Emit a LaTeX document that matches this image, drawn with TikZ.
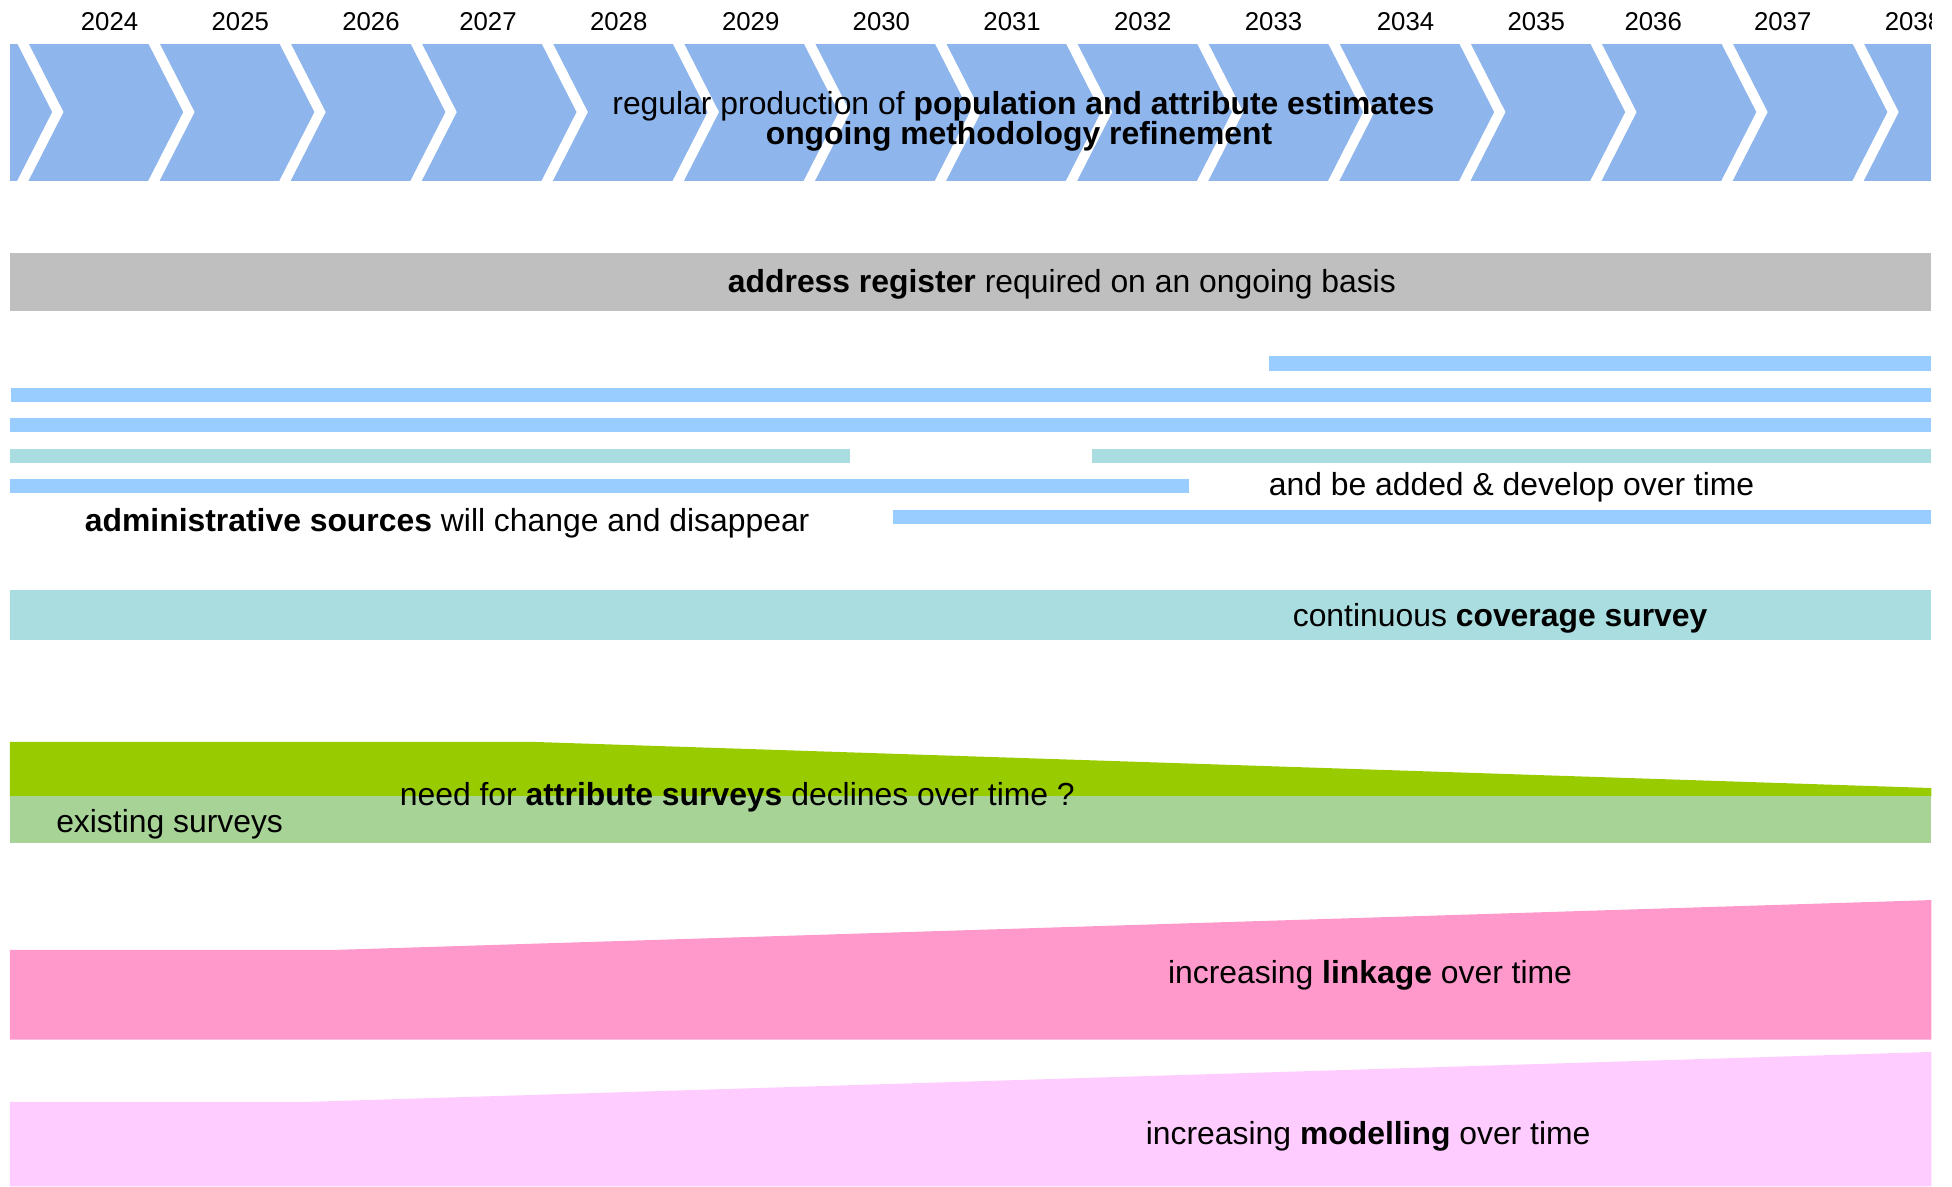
\documentclass[tikz,border=0pt]{standalone}
\usepackage{fontspec}
\setmainfont{Liberation Sans}
\definecolor{chev}{HTML}{8EB5EC}
\definecolor{greybar}{HTML}{BFBFBF}
\definecolor{thinblue}{HTML}{99CCFF}
\definecolor{teal}{HTML}{AADDE0}
\definecolor{dkgreen}{HTML}{99CC00}
\definecolor{ltgreen}{HTML}{A7D496}
\definecolor{pink}{HTML}{FF99CC}
\definecolor{ltpink}{HTML}{FFCCFF}
\tikzset{
  yr/.style={anchor=base,inner sep=0pt,font=\fontsize{20.7}{24}\selectfont},
  lbl/.style={anchor=base,inner sep=0pt,font=\fontsize{25.6}{30}\selectfont},
  lblw/.style={anchor=base west,inner sep=0pt,font=\fontsize{25.6}{30}\selectfont},
  sep/.style={white,line width=8pt,miter limit=20},
}
\begin{document}
\begin{tikzpicture}[x=1pt,y=-1pt]
\useasboundingbox (0,0) rectangle (1568,953);
\begin{scope}
\clip (8,0) rectangle (1551.5,953);
% chevron band
\fill[chev] (8,35) rectangle (1551.5,145);
\begin{scope}
\clip (8,35) rectangle (1551.5,145);
\foreach \k in {0,...,14}{
  \pgfmathsetmacro{\xc}{14+105.3*\k+4.5}
  \draw[sep] ({\xc-2.6},30) -- ({\xc+28},90) -- ({\xc-2.6},150);
}
\end{scope}
% years
\foreach \yy/\xx in {2024/88,2025/193,2026/298,2027/392,2028/497,2029/603,2030/708,2031/813,2032/918,2033/1023,2034/1129,2035/1234,2036/1328,2037/1432,2038/1537}{
  \node[yr] (y\yy) at (\xx,24.5) {\yy};
}
\node[lbl] (prod) at (822,92) {regular production of \textbf{population and attribute estimates}};
\node[lbl] (meth) at (818.5,116) {\textbf{ongoing methodology refinement}};
% address register
\fill[greybar] (8,203) rectangle (1551.5,250);
\node[lbl] (addr) at (853,235) {\textbf{address register} required on an ongoing basis};
% admin sources
\fill[thinblue] (1019,286) rectangle (1551.5,298);
\fill[thinblue] (9,312) rectangle (1551.5,323);
\fill[thinblue] (8,336) rectangle (1551.5,347);
\fill[teal] (8,361) rectangle (683,372);
\fill[teal] (877,361) rectangle (1551.5,372);
\fill[thinblue] (8,385) rectangle (955,396);
\fill[thinblue] (717,410) rectangle (1551.5,421);
\node[lblw] (added) at (1019,398) {and be added \& develop over time};
\node[lblw] (admin) at (68,427) {\textbf{administrative sources} will change and disappear};
% coverage survey
\fill[teal] (8,474) rectangle (1551.5,514);
\node[lbl] (cov) at (1205,503) {continuous \textbf{coverage survey}};
% surveys
\fill[dkgreen] (8,596) -- (430,596) -- (1551.5,633) -- (1551.5,640) -- (8,640) -- cycle;
\fill[ltgreen] (8,639) rectangle (1551.5,677);
\node[lblw] (attr) at (321,647) {need for \textbf{attribute surveys} declines over time ?};
\node[lblw] (exist) at (45,669) {existing surveys};
% linkage
\fill[pink] (8,763) -- (270,763) -- (1551.5,723) -- (1551.5,835) -- (8,835) -- cycle;
\node[lbl] (link) at (1100.5,790) {increasing \textbf{linkage} over time};
% modelling
\fill[ltpink] (8,885) -- (250,885) -- (1551.5,845) -- (1551.5,953) -- (8,953) -- cycle;
\node[lbl] (model) at (1099,919) {increasing \textbf{modelling} over time};
\end{scope}
\end{tikzpicture}
\end{document}
